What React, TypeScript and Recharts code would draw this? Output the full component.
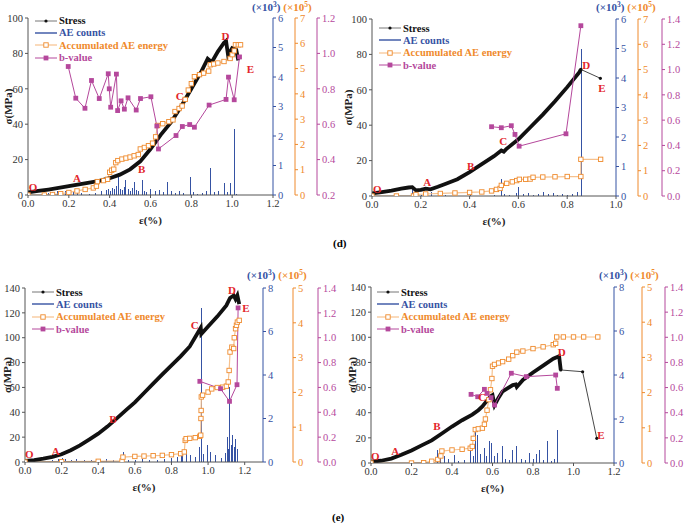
import React from 'react';
import { ComposedChart, Line, Bar, XAxis, YAxis, ReferenceDot } from 'recharts';

type Pt = [number, number];

// ---- (d) left ----
const d1Stress: Pt[] = [
  [0, 1.5], [0.05, 2.3], [0.1, 3.1], [0.15, 4.0], [0.2, 5.0], [0.25, 6.0], [0.3, 7.0], [0.35, 8.0],
  [0.4, 9.5], [0.45, 11.5], [0.5, 14.5], [0.55, 19], [0.6, 26], [0.65, 34], [0.7, 41], [0.75, 50],
  [0.8, 60], [0.85, 70], [0.88, 77], [0.9, 75], [0.93, 81], [0.96, 86], [0.97, 87], [0.98, 79],
  [1.0, 83], [1.02, 82], [1.03, 76],
];
const d1Energy: Pt[] = [
  [0, 0], [0.08, 0], [0.12, 0.02], [0.16, 0.05], [0.2, 0.1], [0.24, 0.16], [0.28, 0.22], [0.32, 0.28],
  [0.335, 0.35], [0.34, 0.53], [0.37, 0.57], [0.39, 0.62], [0.4, 0.9], [0.41, 0.98], [0.42, 1.02],
  [0.43, 1.28], [0.44, 1.36], [0.46, 1.42], [0.48, 1.46], [0.5, 1.5], [0.52, 1.55], [0.54, 1.6],
  [0.55, 1.82], [0.57, 1.88], [0.59, 1.95], [0.61, 2.05], [0.625, 2.3], [0.635, 2.75], [0.66, 2.82],
  [0.69, 2.9], [0.71, 2.97], [0.72, 3.3], [0.74, 3.42], [0.755, 3.52], [0.77, 3.78], [0.785, 4.15],
  [0.8, 4.4], [0.815, 4.68], [0.84, 4.76], [0.86, 4.82], [0.885, 4.9], [0.893, 5.15], [0.91, 5.18],
  [0.93, 5.22], [0.96, 5.28], [0.99, 5.4], [1.0, 5.55], [1.01, 5.7], [1.016, 5.94], [1.03, 5.94],
  [1.041, 5.94],
];
const d1BValue: Pt[] = [
  [0.197, 0.926], [0.234, 0.747], [0.279, 0.69], [0.311, 0.847], [0.349, 0.745], [0.393, 0.885],
  [0.398, 0.8], [0.405, 0.696], [0.433, 0.883], [0.439, 0.677], [0.456, 0.732], [0.472, 0.685],
  [0.49, 0.749], [0.53, 0.68], [0.551, 0.745], [0.602, 0.755], [0.631, 0.59], [0.639, 0.46],
  [0.725, 0.536], [0.756, 0.587], [0.792, 0.598], [0.815, 0.583], [0.887, 0.708], [0.97, 0.74],
  [0.982, 0.866], [1.01, 0.738], [1.036, 0.98],
];
const d1Counts: Pt[] = [
  [0.1, 0.06], [0.12, 0.1], [0.14, 0.14], [0.16, 0.08], [0.18, 0.13], [0.2, 0.12], [0.22, 0.1],
  [0.24, 0.15], [0.26, 0.06], [0.3, 0.05], [0.33, 0.08], [0.36, 0.12], [0.38, 0.18], [0.39, 0.22],
  [0.4, 0.15], [0.41, 0.25], [0.42, 0.2], [0.43, 0.3], [0.44, 0.74], [0.45, 0.22], [0.46, 0.18],
  [0.47, 0.28], [0.475, 0.51], [0.49, 0.2], [0.5, 0.15], [0.51, 0.24], [0.52, 0.45], [0.53, 0.18],
  [0.54, 0.12], [0.557, 0.51], [0.57, 0.15], [0.58, 0.1], [0.6, 0.2], [0.62, 0.14], [0.64, 0.18],
  [0.66, 0.1], [0.68, 0.45], [0.7, 0.12], [0.72, 0.08], [0.74, 0.15], [0.76, 0.06], [0.794, 0.62],
  [0.81, 0.1], [0.83, 0.05], [0.85, 0.08], [0.87, 0.12], [0.89, 0.9], [0.91, 0.1], [0.93, 0.15],
  [0.96, 0.4], [0.975, 0.1], [0.99, 0.42], [1.007, 2.23], [1.02, 0.05],
];

// ---- (d) right ----
const d2Stress: Pt[] = [
  [0, 1.5], [0.04, 2.2], [0.08, 3.0], [0.12, 4.2], [0.15, 4.8], [0.165, 5.0], [0.18, 3.2], [0.2, 3.5],
  [0.22, 4.2], [0.24, 3.8], [0.27, 5.2], [0.3, 6.8], [0.35, 9.5], [0.4, 13.5], [0.45, 18], [0.5, 22.5],
  [0.53, 25.7], [0.54, 25], [0.55, 26.5], [0.6, 32], [0.65, 39], [0.7, 46], [0.75, 53.5], [0.8, 61.5],
  [0.85, 70], [0.856, 71.5],
];
const d2Tail: Pt[] = [[0.856, 71.5], [0.936, 66.5]];
const d2Energy: Pt[] = [
  [0, 0], [0.1, 0], [0.17, 0], [0.18, 0.06], [0.22, 0.08], [0.28, 0.1], [0.34, 0.12], [0.4, 0.14],
  [0.45, 0.16], [0.49, 0.2], [0.51, 0.26], [0.525, 0.3], [0.53, 0.42], [0.552, 0.5], [0.575, 0.56],
  [0.593, 0.61], [0.604, 0.66], [0.63, 0.66], [0.648, 0.67], [0.66, 0.74], [0.7, 0.75], [0.75, 0.76],
  [0.8, 0.77], [0.856, 0.77], [0.856, 1.45], [0.937, 1.45],
];
const d2BValue: Pt[] = [
  [0.49, 0.548], [0.53, 0.54], [0.571, 0.556], [0.586, 0.487], [0.603, 0.394], [0.795, 0.492], [0.856, 1.347],
];
const d2Counts: Pt[] = [
  [0.165, 0.3], [0.175, 0.12], [0.18, 0.25], [0.2, 0.05], [0.22, 0.06], [0.24, 0.15], [0.3, 0.02],
  [0.4, 0.02], [0.5, 0.04], [0.53, 0.59], [0.54, 0.08], [0.56, 0.05], [0.59, 0.1], [0.6, 0.3],
  [0.62, 0.06], [0.64, 0.1], [0.66, 0.05], [0.68, 0.08], [0.7, 0.15], [0.72, 0.06], [0.74, 0.1],
  [0.76, 0.05], [0.78, 0.08], [0.8, 0.04], [0.82, 0.06], [0.84, 0.12], [0.855, 5.0],
];

// ---- (e) left ----
const e1Stress: Pt[] = [
  [0, 0.8], [0.05, 1.5], [0.1, 2.7], [0.15, 4.2], [0.2, 6.2], [0.25, 9.5], [0.3, 13.4], [0.35, 18],
  [0.4, 22.8], [0.45, 28.5], [0.5, 34.9], [0.55, 41.5], [0.6, 48], [0.65, 55.5], [0.7, 63], [0.75, 70.5],
  [0.8, 77.7], [0.85, 85], [0.9, 93], [0.94, 103], [0.96, 108], [0.963, 103], [1.0, 109], [1.05, 117],
  [1.1, 126], [1.12, 132], [1.14, 134], [1.15, 131], [1.16, 134], [1.17, 127],
];
const e1Energy: Pt[] = [
  [0, 0], [0.2, 0.01], [0.4, 0.02], [0.53, 0.03], [0.535, 0.14], [0.6, 0.16], [0.65, 0.17], [0.7, 0.18],
  [0.75, 0.19], [0.8, 0.21], [0.85, 0.24], [0.87, 0.29], [0.875, 0.62], [0.88, 0.67], [0.9, 0.68],
  [0.93, 0.7], [0.955, 0.74], [0.96, 0.77], [0.961, 1.25], [0.962, 1.48], [0.963, 1.87], [0.97, 1.92],
  [1.0, 2.01], [1.02, 2.1], [1.05, 2.14], [1.08, 2.15], [1.1, 2.18], [1.11, 2.3], [1.115, 2.63],
  [1.12, 3.16], [1.13, 3.3], [1.14, 3.26], [1.143, 3.57], [1.15, 3.83], [1.155, 3.93], [1.16, 4.02],
  [1.17, 4.07],
];
const e1BValue: Pt[] = [[0.955, 0.649], [1.068, 0.59], [1.117, 0.488], [1.158, 0.622], [1.164, 1.24]];
const e1Counts: Pt[] = [
  [0.15, 0.08], [0.18, 0.12], [0.2, 0.2], [0.22, 0.15], [0.25, 0.1], [0.28, 0.12], [0.32, 0.08],
  [0.36, 0.1], [0.4, 0.06], [0.44, 0.12], [0.48, 0.08], [0.534, 0.46], [0.56, 0.1], [0.6, 0.08],
  [0.64, 0.12], [0.68, 0.08], [0.72, 0.1], [0.76, 0.14], [0.8, 0.18], [0.83, 0.25], [0.85, 0.35],
  [0.86, 0.4], [0.878, 0.54], [0.9, 0.3], [0.93, 0.25], [0.95, 0.7], [0.959, 7.1], [0.97, 0.35],
  [0.995, 0.77], [1.01, 0.45], [1.04, 0.3], [1.07, 0.2], [1.09, 0.4], [1.104, 1.15], [1.11, 0.6],
  [1.117, 3.45], [1.125, 0.8], [1.131, 1.23], [1.14, 0.7], [1.146, 1.07], [1.16, 0.6],
];

// ---- (e) right ----
const e2Stress: Pt[] = [
  [0, 1], [0.05, 1.8], [0.1, 3.5], [0.15, 6.5], [0.2, 10], [0.25, 14], [0.3, 18], [0.35, 23.5],
  [0.4, 29], [0.45, 34], [0.5, 38.5], [0.53, 42], [0.55, 45], [0.57, 49], [0.59, 53], [0.6, 54],
  [0.61, 46], [0.63, 52], [0.65, 57], [0.7, 62], [0.715, 62.5], [0.72, 60.5], [0.75, 66], [0.8, 72],
  [0.85, 77.5], [0.9, 83], [0.929, 85], [0.937, 74],
];
const e2Tail: Pt[] = [[0.937, 74], [1.045, 72.6], [1.115, 19.6]];
const e2Energy: Pt[] = [
  [0, 0], [0.2, 0], [0.26, 0.01], [0.3, 0.05], [0.33, 0.1], [0.345, 0.2], [0.35, 0.34], [0.4, 0.37],
  [0.45, 0.39], [0.49, 0.42], [0.5, 0.47], [0.505, 0.7], [0.515, 0.95], [0.53, 0.97], [0.55, 0.99],
  [0.56, 1.1], [0.565, 1.25], [0.573, 1.5], [0.582, 1.8], [0.59, 2.08], [0.597, 2.4], [0.6, 2.75],
  [0.61, 2.8], [0.63, 2.84], [0.65, 2.88], [0.68, 2.95], [0.7, 3.05], [0.72, 3.15], [0.75, 3.18],
  [0.8, 3.25], [0.85, 3.3], [0.9, 3.36], [0.912, 3.4], [0.917, 3.58], [0.95, 3.58], [1.0, 3.58],
  [1.05, 3.58], [1.12, 3.58],
];
const e2BValue: Pt[] = [
  [0.494, 0.546], [0.527, 0.527], [0.56, 0.586], [0.573, 0.554], [0.593, 0.52], [0.61, 0.461],
  [0.693, 0.714], [0.767, 0.687], [0.912, 0.7], [0.92, 0.594],
];
const e2Counts: Pt[] = [
  [0.2, 0.05], [0.26, 0.1], [0.3, 0.15], [0.326, 0.6], [0.342, 0.45], [0.36, 0.3], [0.38, 0.2],
  [0.408, 0.38], [0.43, 0.1], [0.46, 0.15], [0.491, 0.6], [0.505, 0.3], [0.516, 1.58], [0.524, 1.29],
  [0.54, 0.4], [0.557, 0.68], [0.57, 0.3], [0.585, 1.0], [0.595, 0.9], [0.605, 0.3], [0.623, 0.45],
  [0.645, 0.76], [0.66, 0.2], [0.68, 0.15], [0.697, 0.6], [0.717, 0.79], [0.74, 0.2], [0.76, 0.15],
  [0.78, 0.45], [0.8, 0.2], [0.813, 0.4], [0.83, 0.6], [0.85, 0.15], [0.871, 0.98], [0.89, 0.1],
  [0.905, 0.2], [0.917, 1.5],
];

// stage labels [strain, stress]
const d1Marks: [string, number, number][] = [['O', 0.025, 4.3], ['A', 0.24, 9.4], ['B', 0.557, 14.7], ['C', 0.743, 55.7], ['D', 0.967, 90], ['E', 1.09, 71]];
const d2Marks: [string, number, number][] = [['O', 0.022, 3.8], ['A', 0.226, 7.8], ['B', 0.404, 17], ['C', 0.538, 30.9], ['D', 0.878, 74], ['E', 0.942, 61]];
const e1Marks: [string, number, number][] = [['O', 0.024, 6.2], ['A', 0.168, 8.8], ['B', 0.48, 34.9], ['C', 0.927, 110], ['D', 1.131, 138.6], ['E', 1.207, 124]];
const e2Marks: [string, number, number][] = [['O', 0.021, 5.8], ['A', 0.12, 9.2], ['B', 0.326, 29], ['C', 0.549, 52.3], ['D', 0.942, 88.5], ['E', 1.135, 22.3]];

// tick labels
const xTicks12 = [0, 0.2, 0.4, 0.6, 0.8, 1.0, 1.2];
const xTicks10 = [0, 0.2, 0.4, 0.6, 0.8, 1.0];
const stressTicks100 = [0, 20, 40, 60, 80, 100];
const stressTicks140 = [0, 20, 40, 60, 80, 100, 120, 140];
const countTicks6 = [0, 1, 2, 3, 4, 5, 6];
const countTicks8 = [0, 2, 4, 6, 8];
const energyTicks7 = [0, 1, 2, 3, 4, 5, 6, 7];
const energyTicks5 = [0, 1, 2, 3, 4, 5];
const bTicksD1 = [0.2, 0.4, 0.6, 0.8, 1.0, 1.2];
const bTicks14 = [0, 0.2, 0.4, 0.6, 0.8, 1.0, 1.2, 1.4];

const SERIF = '"Liberation Serif", "Times New Roman", serif';
const BLACK = '#111';
const BLUE = '#3552a3';
const ORANGE = '#ef8a2c';
const PEACH = '#f6c18e';
const MAGENTA = '#b5489c';
const RED = '#e3262b';
const AXIS = '#555';

const toRows = (pts: Pt[]) => pts.map(([x, y]) => ({ x, y }));

const HollowSquare = (props: any) => {
  const { cx, cy, index } = props;
  if (cx == null || cy == null) return <g key={index} />;
  return <rect key={index} x={cx - 2.2} y={cy - 2.2} width={4.4} height={4.4} fill="#fff" stroke={ORANGE} strokeWidth={0.9} />;
};

const FilledSquare = (props: any) => {
  const { cx, cy, index } = props;
  if (cx == null || cy == null) return <g key={index} />;
  return <rect key={index} x={cx - 2.4} y={cy - 2.4} width={4.8} height={4.8} fill={MAGENTA} />;
};

const SmallDot = (props: any) => {
  const { cx, cy, index } = props;
  if (cx == null || cy == null) return <g key={index} />;
  return <circle key={index} cx={cx} cy={cy} r={1.6} fill={BLACK} />;
};

// thin crisp spike for each AE count
const Spike = (props: any) => {
  const { x, y, width, height } = props;
  if (x == null || !height) return <g />;
  const cx = x + width / 2;
  return <rect x={Math.round(cx) - 0.5} y={y} width={1.1} height={height} fill={BLUE} shapeRendering="crispEdges" />;
};

interface PanelCfg {
  left: number;
  top: number;
  height: number;
  marginTop: number;
  marginBottom: number;
  leftWidth: number;
  yLabelOffset: number;
  rightWidths: [number, number, number];
  xMax: number;
  xTicks: number[];
  stressTicks: number[];
  countTicks: number[];
  energyTicks: number[];
  bTicks: number[];
  stress: Pt[];
  tail?: Pt[];
  energy: Pt[];
  bValue: Pt[];
  counts: Pt[];
  marks: [string, number, number][];
}

const panels: PanelCfg[] = [
  {
    left: 0, top: 0, height: 230, marginTop: 18, marginBottom: 5, leftWidth: 28, yLabelOffset: 8,
    rightWidths: [22, 22, 28], xMax: 1.2, xTicks: xTicks12, stressTicks: stressTicks100,
    countTicks: countTicks6, energyTicks: energyTicks7, bTicks: bTicksD1,
    stress: d1Stress, energy: d1Energy, bValue: d1BValue, counts: d1Counts, marks: d1Marks,
  },
  {
    left: 340, top: 0, height: 231, marginTop: 19, marginBottom: 5, leftWidth: 32, yLabelOffset: 8,
    rightWidths: [22, 24, 23], xMax: 1.0, xTicks: xTicks10, stressTicks: stressTicks100,
    countTicks: countTicks6, energyTicks: energyTicks7, bTicks: bTicks14,
    stress: d2Stress, tail: d2Tail, energy: d2Energy, bValue: d2BValue, counts: d2Counts, marks: d2Marks,
  },
  {
    left: 0, top: 250, height: 245, marginTop: 38, marginBottom: 3, leftWidth: 25, yLabelOffset: 7,
    rightWidths: [30, 25, 27], xMax: 1.3, xTicks: xTicks12, stressTicks: stressTicks140,
    countTicks: countTicks8, energyTicks: energyTicks5, bTicks: bTicks14,
    stress: e1Stress, energy: e1Energy, bValue: e1BValue, counts: e1Counts, marks: e1Marks,
  },
  {
    left: 340, top: 250, height: 245, marginTop: 37, marginBottom: 2, leftWidth: 31, yLabelOffset: 12,
    rightWidths: [28, 23, 20], xMax: 1.2, xTicks: xTicks12, stressTicks: stressTicks140,
    countTicks: countTicks8, energyTicks: energyTicks5, bTicks: bTicks14,
    stress: e2Stress, tail: e2Tail, energy: e2Energy, bValue: e2BValue, counts: e2Counts, marks: e2Marks,
  },
];

const tickStyle = (fill: string) => ({ fill, fontSize: 10.5, fontFamily: SERIF });

function Panel({ cfg }: { cfg: PanelCfg }) {
  const [wBlue, wOrange, wMag] = cfg.rightWidths;
  const yLabel = (props: any) => {
    const vb = props.viewBox;
    const cx = vb.x + cfg.yLabelOffset;
    const cy = vb.y + vb.height / 2;
    return (
      <text x={cx} y={cy} transform={`rotate(-90 ${cx} ${cy})`} textAnchor="middle" dominantBaseline="central"
        fontFamily={SERIF} fontWeight={700} fontSize={11} fill="#222">σ(MPa)</text>
    );
  };
  const xLabel = (props: any) => {
    const vb = props.viewBox;
    return (
      <text x={vb.x + vb.width / 2} y={vb.y + 29} textAnchor="middle" fontFamily={SERIF} fontWeight={700} fontSize={11} fill="#222">ε(%)</text>
    );
  };
  // right axis ids sort alphabetically: r1 (counts) next to plot, then r2 (energy), then r3 (b-value)
  return (
    <div style={{ position: 'absolute', left: cfg.left, top: cfg.top }}>
      <ComposedChart
        width={345}
        height={cfg.height}
        data={toRows(cfg.counts)}
        margin={{ top: cfg.marginTop, right: 0, bottom: cfg.marginBottom, left: 0 }}
      >
        <XAxis dataKey="x" type="number" domain={[0, cfg.xMax]} ticks={cfg.xTicks} allowDataOverflow
          tickFormatter={(v: number) => v.toFixed(1)} height={30} stroke={AXIS} tickSize={3}
          tick={tickStyle('#333')} label={{ content: xLabel }} />
        <YAxis yAxisId="l0" domain={[0, cfg.stressTicks[cfg.stressTicks.length - 1]]} ticks={cfg.stressTicks}
          allowDataOverflow width={cfg.leftWidth} stroke={AXIS} tickSize={3} tickMargin={2}
          tick={tickStyle('#333')} label={{ content: yLabel }} />
        <YAxis yAxisId="r1" orientation="right" domain={[0, cfg.countTicks[cfg.countTicks.length - 1]]}
          ticks={cfg.countTicks} allowDataOverflow width={wBlue} stroke={BLUE} tickSize={3} tickMargin={2}
          tick={tickStyle(BLUE)} />
        <YAxis yAxisId="r2" orientation="right" domain={[0, cfg.energyTicks[cfg.energyTicks.length - 1]]}
          ticks={cfg.energyTicks} allowDataOverflow width={wOrange} stroke={ORANGE} tickSize={3} tickMargin={2}
          tick={tickStyle(ORANGE)} />
        <YAxis yAxisId="r3" orientation="right" domain={[cfg.bTicks[0], cfg.bTicks[cfg.bTicks.length - 1]]}
          ticks={cfg.bTicks} allowDataOverflow width={wMag} stroke={MAGENTA} tickSize={3} tickMargin={2}
          tickFormatter={(v: number) => v.toFixed(1)} tick={tickStyle(MAGENTA)} />
        <Bar yAxisId="r1" dataKey="y" fill={BLUE} barSize={2} shape={Spike} isAnimationActive={false} />
        <Line yAxisId="r2" data={toRows(cfg.energy)} dataKey="y" stroke={PEACH} strokeWidth={1.2}
          dot={HollowSquare} activeDot={false} isAnimationActive={false} />
        <Line yAxisId="l0" data={toRows(cfg.stress)} dataKey="y" stroke={BLACK} strokeWidth={3.8}
          dot={false} activeDot={false} isAnimationActive={false} />
        {cfg.tail && (
          <Line yAxisId="l0" data={toRows(cfg.tail)} dataKey="y" stroke="#333" strokeWidth={0.9}
            dot={SmallDot} activeDot={false} isAnimationActive={false} />
        )}
        <Line yAxisId="r3" data={toRows(cfg.bValue)} dataKey="y" stroke={MAGENTA} strokeWidth={1}
          dot={FilledSquare} activeDot={false} isAnimationActive={false} />
        {cfg.marks.map(([t, x, y]) => (
          <ReferenceDot key={t} yAxisId="l0" x={x} y={y} r={0} fill="none" stroke="none"
            label={{ value: t, position: 'center', fill: RED, fontSize: 11, fontWeight: 700, fontFamily: SERIF }} />
        ))}
      </ComposedChart>
    </div>
  );
}

const legendItems = [
  { label: 'Stress', color: BLACK, kind: 'stress' },
  { label: 'AE counts', color: BLUE, kind: 'counts' },
  { label: 'Accumulated AE energy', color: ORANGE, kind: 'energy' },
  { label: 'b-value', color: MAGENTA, kind: 'b' },
];

function LegendBox({ left, top }: { left: number; top: number }) {
  return (
    <div style={{ position: 'absolute', left, top, fontFamily: SERIF, fontWeight: 700, fontSize: 10.5 }}>
      {legendItems.map((it) => (
        <div key={it.label} style={{ display: 'flex', alignItems: 'center', height: 12.3 }}>
          <svg width={22} height={8}>
            {it.kind === 'stress' && <><line x1={0} y1={4} x2={22} y2={4} stroke="#777" strokeWidth={1} /><circle cx={11} cy={4} r={1.6} fill={BLACK} /></>}
            {it.kind === 'counts' && <line x1={0} y1={4} x2={22} y2={4} stroke={BLUE} strokeWidth={1.4} />}
            {it.kind === 'energy' && <><line x1={0} y1={4} x2={22} y2={4} stroke={PEACH} strokeWidth={1.2} /><rect x={8.8} y={1.8} width={4.4} height={4.4} fill="#fff" stroke={ORANGE} strokeWidth={0.9} /></>}
            {it.kind === 'b' && <><line x1={0} y1={4} x2={22} y2={4} stroke={MAGENTA} strokeWidth={1} /><rect x={8.6} y={1.6} width={4.8} height={4.8} fill={MAGENTA} /></>}
          </svg>
          <span style={{ color: it.color, marginLeft: 2, whiteSpace: 'nowrap' }}>{it.label}</span>
        </div>
      ))}
    </div>
  );
}

function UnitLabels({ left, top }: { left: number; top: number }) {
  const st: React.CSSProperties = { fontFamily: SERIF, fontWeight: 700, fontSize: 11, whiteSpace: 'nowrap', lineHeight: '12px' };
  const sup: React.CSSProperties = { fontSize: 7.5, verticalAlign: 'top', lineHeight: '8px' };
  return (
    <div style={{ position: 'absolute', left, top, display: 'flex', height: 12 }}>
      <span style={{ ...st, color: BLUE }}>(×10<span style={sup}>3</span>)</span>
      <span style={{ ...st, color: ORANGE, marginLeft: 3 }}>(×10<span style={sup}>5</span>)</span>
    </div>
  );
}

export default function App() {
  return (
    <div style={{ position: 'absolute', left: 0, top: 0, width: 685, height: 523, background: '#fff', overflow: 'hidden' }}>
      {panels.map((p, i) => <Panel key={i} cfg={p} />)}
      <LegendBox left={35} top={14.5} />
      <LegendBox left={379} top={22} />
      <LegendBox left={32} top={286} />
      <LegendBox left={377} top={286} />
      <UnitLabels left={252} top={1} />
      <UnitLabels left={596} top={1} />
      <UnitLabels left={247} top={269} />
      <UnitLabels left={599} top={269} />
      <div style={{ position: 'absolute', left: 333, top: 237, fontFamily: SERIF, fontWeight: 700, fontSize: 11 }}>(d)</div>
      <div style={{ position: 'absolute', left: 332, top: 511, fontFamily: SERIF, fontWeight: 700, fontSize: 11 }}>(e)</div>
    </div>
  );
}
